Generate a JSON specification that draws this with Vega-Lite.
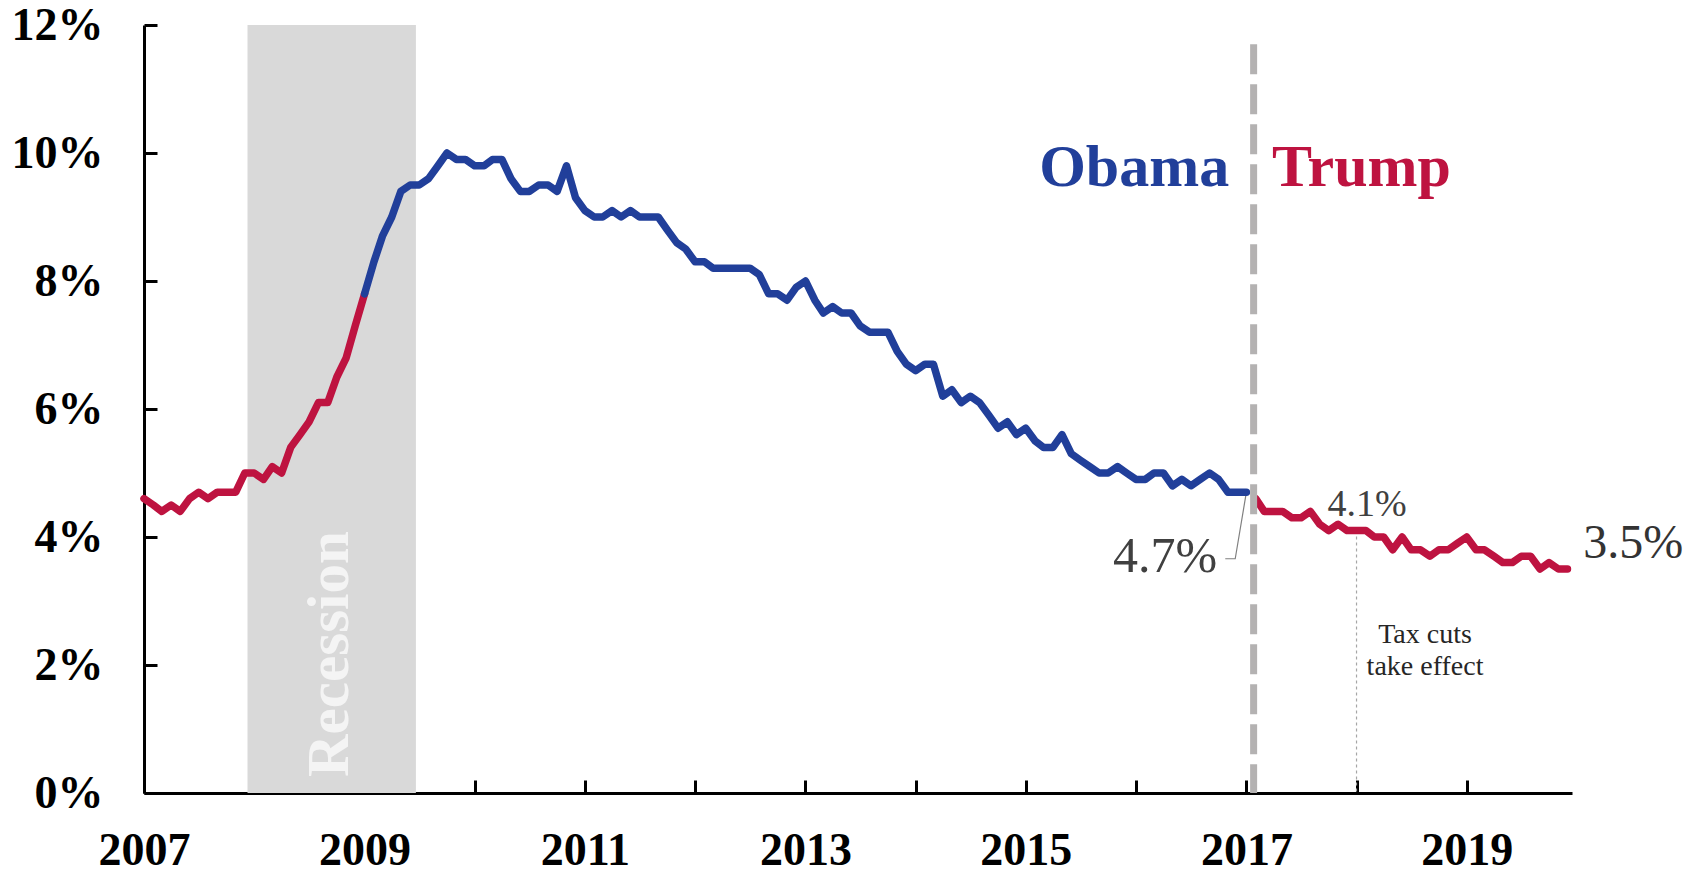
{
  "$schema": "https://vega.github.io/schema/vega-lite/v6.json",
  "width": 1428,
  "height": 768,
  "autosize": {"type": "none"},
  "padding": {"left": 144, "top": 25, "right": 130, "bottom": 83},
  "background": "white",
  "config": {"view": {"stroke": null}, "font": "Liberation Serif"},
  "datasets": {
    "rate": [
      {"d":"2007-01-01","v":4.6,"s":"bush"},{"d":"2007-02-01","v":4.5,"s":"bush"},{"d":"2007-03-01","v":4.4,"s":"bush"},{"d":"2007-04-01","v":4.5,"s":"bush"},{"d":"2007-05-01","v":4.4,"s":"bush"},{"d":"2007-06-01","v":4.6,"s":"bush"},{"d":"2007-07-01","v":4.7,"s":"bush"},{"d":"2007-08-01","v":4.6,"s":"bush"},{"d":"2007-09-01","v":4.7,"s":"bush"},{"d":"2007-10-01","v":4.7,"s":"bush"},{"d":"2007-11-01","v":4.7,"s":"bush"},{"d":"2007-12-01","v":5.0,"s":"bush"},
      {"d":"2008-01-01","v":5.0,"s":"bush"},{"d":"2008-02-01","v":4.9,"s":"bush"},{"d":"2008-03-01","v":5.1,"s":"bush"},{"d":"2008-04-01","v":5.0,"s":"bush"},{"d":"2008-05-01","v":5.4,"s":"bush"},{"d":"2008-06-01","v":5.6,"s":"bush"},{"d":"2008-07-01","v":5.8,"s":"bush"},{"d":"2008-08-01","v":6.1,"s":"bush"},{"d":"2008-09-01","v":6.1,"s":"bush"},{"d":"2008-10-01","v":6.5,"s":"bush"},{"d":"2008-11-01","v":6.8,"s":"bush"},{"d":"2008-12-01","v":7.3,"s":"bush"},{"d":"2009-01-01","v":7.8,"s":"bush"},
      {"d":"2009-01-01","v":7.8,"s":"obama"},{"d":"2009-02-01","v":8.3,"s":"obama"},{"d":"2009-03-01","v":8.7,"s":"obama"},{"d":"2009-04-01","v":9.0,"s":"obama"},{"d":"2009-05-01","v":9.4,"s":"obama"},{"d":"2009-06-01","v":9.5,"s":"obama"},{"d":"2009-07-01","v":9.5,"s":"obama"},{"d":"2009-08-01","v":9.6,"s":"obama"},{"d":"2009-09-01","v":9.8,"s":"obama"},{"d":"2009-10-01","v":10.0,"s":"obama"},{"d":"2009-11-01","v":9.9,"s":"obama"},{"d":"2009-12-01","v":9.9,"s":"obama"},
      {"d":"2010-01-01","v":9.8,"s":"obama"},{"d":"2010-02-01","v":9.8,"s":"obama"},{"d":"2010-03-01","v":9.9,"s":"obama"},{"d":"2010-04-01","v":9.9,"s":"obama"},{"d":"2010-05-01","v":9.6,"s":"obama"},{"d":"2010-06-01","v":9.4,"s":"obama"},{"d":"2010-07-01","v":9.4,"s":"obama"},{"d":"2010-08-01","v":9.5,"s":"obama"},{"d":"2010-09-01","v":9.5,"s":"obama"},{"d":"2010-10-01","v":9.4,"s":"obama"},{"d":"2010-11-01","v":9.8,"s":"obama"},{"d":"2010-12-01","v":9.3,"s":"obama"},
      {"d":"2011-01-01","v":9.1,"s":"obama"},{"d":"2011-02-01","v":9.0,"s":"obama"},{"d":"2011-03-01","v":9.0,"s":"obama"},{"d":"2011-04-01","v":9.1,"s":"obama"},{"d":"2011-05-01","v":9.0,"s":"obama"},{"d":"2011-06-01","v":9.1,"s":"obama"},{"d":"2011-07-01","v":9.0,"s":"obama"},{"d":"2011-08-01","v":9.0,"s":"obama"},{"d":"2011-09-01","v":9.0,"s":"obama"},{"d":"2011-10-01","v":8.8,"s":"obama"},{"d":"2011-11-01","v":8.6,"s":"obama"},{"d":"2011-12-01","v":8.5,"s":"obama"},
      {"d":"2012-01-01","v":8.3,"s":"obama"},{"d":"2012-02-01","v":8.3,"s":"obama"},{"d":"2012-03-01","v":8.2,"s":"obama"},{"d":"2012-04-01","v":8.2,"s":"obama"},{"d":"2012-05-01","v":8.2,"s":"obama"},{"d":"2012-06-01","v":8.2,"s":"obama"},{"d":"2012-07-01","v":8.2,"s":"obama"},{"d":"2012-08-01","v":8.1,"s":"obama"},{"d":"2012-09-01","v":7.8,"s":"obama"},{"d":"2012-10-01","v":7.8,"s":"obama"},{"d":"2012-11-01","v":7.7,"s":"obama"},{"d":"2012-12-01","v":7.9,"s":"obama"},
      {"d":"2013-01-01","v":8.0,"s":"obama"},{"d":"2013-02-01","v":7.7,"s":"obama"},{"d":"2013-03-01","v":7.5,"s":"obama"},{"d":"2013-04-01","v":7.6,"s":"obama"},{"d":"2013-05-01","v":7.5,"s":"obama"},{"d":"2013-06-01","v":7.5,"s":"obama"},{"d":"2013-07-01","v":7.3,"s":"obama"},{"d":"2013-08-01","v":7.2,"s":"obama"},{"d":"2013-09-01","v":7.2,"s":"obama"},{"d":"2013-10-01","v":7.2,"s":"obama"},{"d":"2013-11-01","v":6.9,"s":"obama"},{"d":"2013-12-01","v":6.7,"s":"obama"},
      {"d":"2014-01-01","v":6.6,"s":"obama"},{"d":"2014-02-01","v":6.7,"s":"obama"},{"d":"2014-03-01","v":6.7,"s":"obama"},{"d":"2014-04-01","v":6.2,"s":"obama"},{"d":"2014-05-01","v":6.3,"s":"obama"},{"d":"2014-06-01","v":6.1,"s":"obama"},{"d":"2014-07-01","v":6.2,"s":"obama"},{"d":"2014-08-01","v":6.1,"s":"obama"},{"d":"2014-09-01","v":5.9,"s":"obama"},{"d":"2014-10-01","v":5.7,"s":"obama"},{"d":"2014-11-01","v":5.8,"s":"obama"},{"d":"2014-12-01","v":5.6,"s":"obama"},
      {"d":"2015-01-01","v":5.7,"s":"obama"},{"d":"2015-02-01","v":5.5,"s":"obama"},{"d":"2015-03-01","v":5.4,"s":"obama"},{"d":"2015-04-01","v":5.4,"s":"obama"},{"d":"2015-05-01","v":5.6,"s":"obama"},{"d":"2015-06-01","v":5.3,"s":"obama"},{"d":"2015-07-01","v":5.2,"s":"obama"},{"d":"2015-08-01","v":5.1,"s":"obama"},{"d":"2015-09-01","v":5.0,"s":"obama"},{"d":"2015-10-01","v":5.0,"s":"obama"},{"d":"2015-11-01","v":5.1,"s":"obama"},{"d":"2015-12-01","v":5.0,"s":"obama"},
      {"d":"2016-01-01","v":4.9,"s":"obama"},{"d":"2016-02-01","v":4.9,"s":"obama"},{"d":"2016-03-01","v":5.0,"s":"obama"},{"d":"2016-04-01","v":5.0,"s":"obama"},{"d":"2016-05-01","v":4.8,"s":"obama"},{"d":"2016-06-01","v":4.9,"s":"obama"},{"d":"2016-07-01","v":4.8,"s":"obama"},{"d":"2016-08-01","v":4.9,"s":"obama"},{"d":"2016-09-01","v":5.0,"s":"obama"},{"d":"2016-10-01","v":4.9,"s":"obama"},{"d":"2016-11-01","v":4.7,"s":"obama"},{"d":"2016-12-01","v":4.7,"s":"obama"},{"d":"2017-01-01","v":4.7,"s":"obama"},
      {"d":"2017-02-01","v":4.6,"s":"trump"},{"d":"2017-03-01","v":4.4,"s":"trump"},{"d":"2017-04-01","v":4.4,"s":"trump"},{"d":"2017-05-01","v":4.4,"s":"trump"},{"d":"2017-06-01","v":4.3,"s":"trump"},{"d":"2017-07-01","v":4.3,"s":"trump"},{"d":"2017-08-01","v":4.4,"s":"trump"},{"d":"2017-09-01","v":4.2,"s":"trump"},{"d":"2017-10-01","v":4.1,"s":"trump"},{"d":"2017-11-01","v":4.2,"s":"trump"},{"d":"2017-12-01","v":4.1,"s":"trump"},
      {"d":"2018-01-01","v":4.1,"s":"trump"},{"d":"2018-02-01","v":4.1,"s":"trump"},{"d":"2018-03-01","v":4.0,"s":"trump"},{"d":"2018-04-01","v":4.0,"s":"trump"},{"d":"2018-05-01","v":3.8,"s":"trump"},{"d":"2018-06-01","v":4.0,"s":"trump"},{"d":"2018-07-01","v":3.8,"s":"trump"},{"d":"2018-08-01","v":3.8,"s":"trump"},{"d":"2018-09-01","v":3.7,"s":"trump"},{"d":"2018-10-01","v":3.8,"s":"trump"},{"d":"2018-11-01","v":3.8,"s":"trump"},{"d":"2018-12-01","v":3.9,"s":"trump"},
      {"d":"2019-01-01","v":4.0,"s":"trump"},{"d":"2019-02-01","v":3.8,"s":"trump"},{"d":"2019-03-01","v":3.8,"s":"trump"},{"d":"2019-04-01","v":3.7,"s":"trump"},{"d":"2019-05-01","v":3.6,"s":"trump"},{"d":"2019-06-01","v":3.6,"s":"trump"},{"d":"2019-07-01","v":3.7,"s":"trump"},{"d":"2019-08-01","v":3.7,"s":"trump"},{"d":"2019-09-01","v":3.5,"s":"trump"},{"d":"2019-10-01","v":3.6,"s":"trump"},{"d":"2019-11-01","v":3.5,"s":"trump"},{"d":"2019-12-01","v":3.5,"s":"trump"}
    ]
  },
  "layer": [
    {
      "data": {"values": [{"d": "2007-12-10", "d2": "2009-06-20", "v": 0, "v2": 12}]},
      "mark": {"type": "rect", "color": "#d9d9d9"},
      "encoding": {
        "x": {"field": "d", "type": "temporal", "title": null, "scale": {"type": "utc", "domain": [1167609600000, 1576454400000]}},
        "x2": {"field": "d2"},
        "y": {"field": "v", "type": "quantitative", "title": null, "scale": {"domain": [0, 12]}},
        "y2": {"field": "v2"}
      }
    },
    {
      "data": {"values": [{"d": "2008-11-07", "v": 0.25, "t": "Recession"}]},
      "mark": {"type": "text", "angle": 270, "align": "left", "baseline": "alphabetic", "font": "Liberation Serif", "fontWeight": "bold", "fontSize": 59, "color": "#f4f4f4"},
      "encoding": {
        "x": {"field": "d", "type": "temporal", "title": null},
        "y": {"field": "v", "type": "quantitative", "title": null},
        "text": {"field": "t"}
      }
    },
    {
      "data": {"values": [{"d": "2018-01-01", "v": 4.1, "v2": 0}]},
      "mark": {"type": "rule", "color": "#a6a6a6", "strokeWidth": 1.2, "strokeDash": [3, 3]},
      "encoding": {
        "x": {"field": "d", "type": "temporal", "title": null},
        "y": {"field": "v", "type": "quantitative", "title": null},
        "y2": {"field": "v2"}
      }
    },
    {
      "data": {"values": [{"d": "2017-01-01", "v": 4.7, "o": 1}, {"d": "2016-11-25", "v": 3.66, "o": 2}, {"d": "2016-10-23", "v": 3.66, "o": 3}]},
      "mark": {"type": "line", "color": "#808080", "strokeWidth": 1.2},
      "encoding": {
        "x": {"field": "d", "type": "temporal", "title": null},
        "y": {"field": "v", "type": "quantitative", "title": null},
        "order": {"field": "o"}
      }
    },
    {
      "data": {"name": "rate"},
      "mark": {"type": "line", "strokeWidth": 7.5, "strokeJoin": "round", "strokeCap": "round"},
      "encoding": {
        "x": {
          "field": "d", "type": "temporal", "title": null,
          "axis": {
            "values": [1167609600000, 1199145600000, 1230768000000, 1262304000000, 1293840000000, 1325376000000, 1356998400000, 1388534400000, 1420070400000, 1451606400000, 1483228800000, 1514764800000, 1546300800000],
            "labelExpr": "utcyear(datum.value) % 2 == 1 ? utcFormat(datum.value, '%Y') : ''",
            "labelFlush": false, "labelOverlap": false, "labelBound": false,
            "labelFont": "Liberation Serif", "labelFontWeight": "bold", "labelFontSize": 46, "labelColor": "#000000",
            "labelBaseline": "top", "labelAlign": "center", "labelPadding": 48,
            "tickSize": -13, "tickWidth": 3, "tickColor": "#000000",
            "domainColor": "#000000", "domainWidth": 3, "grid": false
          }
        },
        "y": {
          "field": "v", "type": "quantitative", "title": null,
          "axis": {
            "values": [0, 2, 4, 6, 8, 10, 12],
            "labelExpr": "datum.value + '%'",
            "labelFont": "Liberation Serif", "labelFontWeight": "bold", "labelFontSize": 46, "labelColor": "#000000",
            "labelAlign": "right", "labelBaseline": "middle", "labelPadding": 54,
            "tickSize": -13, "tickWidth": 3, "tickColor": "#000000",
            "domainColor": "#000000", "domainWidth": 3, "grid": false
          }
        },
        "color": {"field": "s", "type": "nominal", "legend": null, "scale": {"domain": ["bush", "obama", "trump"], "range": ["#be1340", "#213f9a", "#be1340"]}}
      }
    },
    {
      "data": {"values": [{"d": "2017-01-25", "v": 11.7, "v2": 0}]},
      "mark": {"type": "rule", "color": "#b4b2b2", "strokeWidth": 7, "strokeDash": [30, 10]},
      "encoding": {
        "x": {"field": "d", "type": "temporal", "title": null},
        "y": {"field": "v", "type": "quantitative", "title": null},
        "y2": {"field": "v2"}
      }
    },
    {
      "data": {"values": [{"d": "2016-11-05", "v": 9.48, "t": "Obama"}]},
      "mark": {"type": "text", "align": "right", "baseline": "alphabetic", "font": "Liberation Serif", "fontWeight": "bold", "fontSize": 60, "color": "#213f9a"},
      "encoding": {
        "x": {"field": "d", "type": "temporal", "title": null},
        "y": {"field": "v", "type": "quantitative", "title": null},
        "text": {"field": "t"}
      }
    },
    {
      "data": {"values": [{"d": "2017-03-27", "v": 9.48, "t": "Trump"}]},
      "mark": {"type": "text", "align": "left", "baseline": "alphabetic", "font": "Liberation Serif", "fontWeight": "bold", "fontSize": 60, "color": "#be1340"},
      "encoding": {
        "x": {"field": "d", "type": "temporal", "title": null},
        "y": {"field": "v", "type": "quantitative", "title": null},
        "text": {"field": "t"}
      }
    },
    {
      "data": {"values": [{"d": "2016-09-26", "v": 3.45, "t": "4.7%"}]},
      "mark": {"type": "text", "align": "right", "baseline": "alphabetic", "font": "Liberation Serif", "fontSize": 50, "color": "#404040"},
      "encoding": {
        "x": {"field": "d", "type": "temporal", "title": null},
        "y": {"field": "v", "type": "quantitative", "title": null},
        "text": {"field": "t"}
      }
    },
    {
      "data": {"values": [{"d": "2018-02-05", "v": 4.33, "t": "4.1%"}]},
      "mark": {"type": "text", "align": "center", "baseline": "alphabetic", "font": "Liberation Serif", "fontSize": 38, "color": "#404040"},
      "encoding": {
        "x": {"field": "d", "type": "temporal", "title": null},
        "y": {"field": "v", "type": "quantitative", "title": null},
        "text": {"field": "t"}
      }
    },
    {
      "data": {"values": [{"d": "2020-01-22", "v": 3.67, "t": "3.5%"}]},
      "mark": {"type": "text", "align": "left", "baseline": "alphabetic", "font": "Liberation Serif", "fontSize": 48, "color": "#333333"},
      "encoding": {
        "x": {"field": "d", "type": "temporal", "title": null},
        "y": {"field": "v", "type": "quantitative", "title": null},
        "text": {"field": "t"}
      }
    },
    {
      "data": {"values": [{"d": "2018-08-16", "v": 2.344, "t": "Tax cuts"}, {"d": "2018-08-16", "v": 1.844, "t": "take effect"}]},
      "mark": {"type": "text", "align": "center", "baseline": "alphabetic", "font": "Liberation Serif", "fontSize": 28, "color": "#262626"},
      "encoding": {
        "x": {"field": "d", "type": "temporal", "title": null},
        "y": {"field": "v", "type": "quantitative", "title": null},
        "text": {"field": "t"}
      }
    }
  ]
}
